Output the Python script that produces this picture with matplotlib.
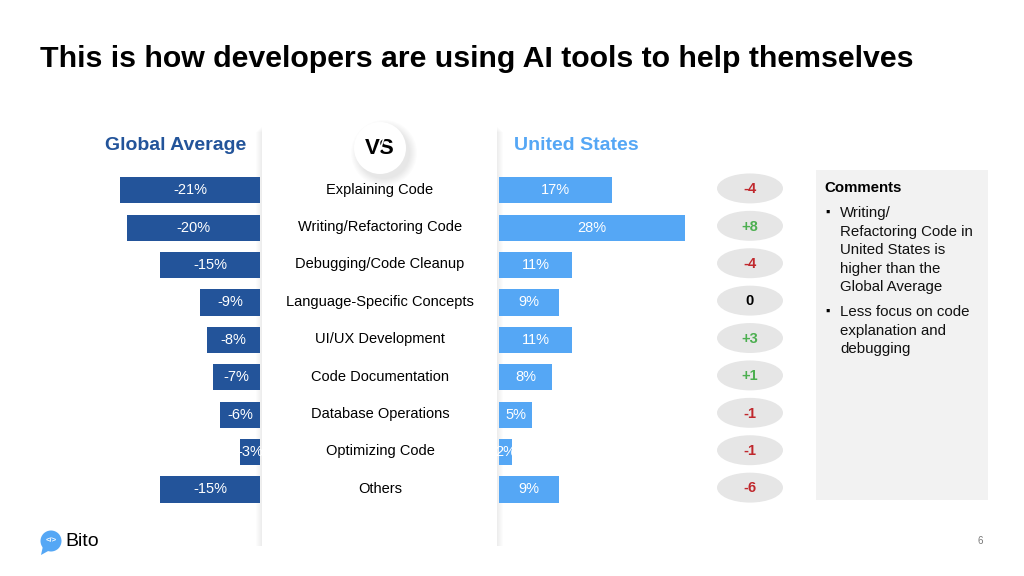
import matplotlib
matplotlib.use("Agg")
import matplotlib.pyplot as plt
from matplotlib.patches import Rectangle, Ellipse, Circle, Polygon

plt.rcParams['font.family'] = ['Liberation Sans', 'DejaVu Sans']

# data
categories = ['Explaining Code', 'Writing/Refactoring Code', 'Debugging/Code Cleanup',
              'Language-Specific Concepts', 'UI/UX Development', 'Code Documentation',
              'Database Operations', 'Optimizing Code', 'Others']
global_avg = [-21, -20, -15, -9, -8, -7, -6, -3, -15]
united_states = [17, 28, 11, 9, 11, 8, 5, 2, 9]
diffs = [-4, 8, -4, 0, 3, 1, -1, -1, -6]
comments = [['Writing/', 'Refactoring Code in', 'United States is',
             'higher than the', 'Global Average'],
            ['Less focus on code', 'explanation and', 'debugging']]

DARK = '#23549A'
LIGHT = '#55A7F5'
RED = '#C0282D'
GREEN = '#4CAF50'

W, H = 1024, 576
fig = plt.figure(figsize=(W / 100, H / 100), dpi=100)
fig.patch.set_facecolor('white')

# background axes in pixel coordinates
bg = fig.add_axes([0, 0, 1, 1])
bg.set_xlim(0, W)
bg.set_ylim(H, 0)
bg.axis('off')

bg.text(40, 59, 'This is how developers are using AI tools to help themselves',
        fontsize=21.8, fontweight='bold', color='black', va='center', ha='left')

# middle panel with soft shadow
for off in range(6, 0, -1):
    bg.add_patch(Rectangle((262 - off, 126 + off), 235 + 2 * off, 420 - off,
                           color='black', alpha=0.012, lw=0, zorder=1))
bg.add_patch(Rectangle((262, 126), 235, 422, color='white', lw=0, zorder=2))

# VS badge
for r in range(33, 25, -1):
    bg.add_patch(Circle((384, 153), r, color='black', alpha=0.012, lw=0, zorder=3))
bg.add_patch(Circle((380, 148), 26, color='white', lw=0, zorder=4))
bg.text(380, 149, 'VS', fontsize=16, fontweight='heavy',
        ha='center', va='center', color='black', zorder=5)
bg.plot([385, 376], [135, 162], color='white', lw=1.2, zorder=6)

bg.text(105, 145, 'Global Average', fontsize=14, fontweight='bold', color=DARK,
        ha='left', va='center')
bg.text(514, 145, 'United States', fontsize=14, fontweight='bold', color=LIGHT,
        ha='left', va='center')

# comments box
bg.add_patch(Rectangle((816, 170), 172, 330, color='#F2F2F2', lw=0))
bg.text(824, 188, 'Comments', fontsize=10.8, fontweight='bold', ha='left', va='center')
y = 213
for block in comments:
    bg.text(828, y, '\u25aa', fontsize=9, ha='center', va='center')
    for line in block:
        bg.text(840, y, line, fontsize=10.8, ha='left', va='center', color='#111111')
        y += 18.6
    y += 6

# logo and page number
bg.add_patch(Polygon([[43, 546], [41, 555], [50, 550]], color=LIGHT, lw=0))
bg.add_patch(Circle((51, 541), 10.5, color=LIGHT, lw=0))
bg.text(51, 541, '</>', fontsize=5.5, fontweight='bold', color='white',
        ha='center', va='center')
bg.text(65, 541, 'Bito', fontsize=14, color='black', ha='left', va='center')
bg.text(980, 541, '6', fontsize=7, color='#777777', ha='center', va='center')

# row band shared by bars, labels and ovals
y0, step = 190.3, 37.4
top = y0 - step / 2
band_h = step * len(categories)
rect_y = 1 - (top + band_h) / H
rows = list(range(len(categories)))

ax_mid = fig.add_axes([0, rect_y, 1, band_h / H])
ax_mid.set_xlim(0, W)
ax_mid.set_ylim(len(categories) - 0.5, -0.5)
ax_mid.axis('off')
ax_mid.patch.set_alpha(0)
for i, cat in enumerate(categories):
    ax_mid.text(380, i - 0.02, cat, fontsize=10.5, ha='center', va='center', color='black')
    ax_mid.add_patch(Ellipse((750, i - 0.05), 66, 0.8, color='#E6E6E6', lw=0))
    d = diffs[i]
    txt = f'{d:+d}' if d != 0 else '0'
    col = RED if d < 0 else (GREEN if d > 0 else 'black')
    ax_mid.text(750, i - 0.03, txt, fontsize=10.5, fontweight='bold', color=col,
                ha='center', va='center')

# left bars
ax_l = fig.add_axes([100 / W, rect_y, 160 / W, band_h / H])
ax_l.barh(rows, global_avg, height=0.7, color=DARK)
ax_l.set_xlim(-24, 0)
ax_l.set_ylim(len(categories) - 0.5, -0.5)
ax_l.axis('off')
ax_l.patch.set_alpha(0)
for i, v in enumerate(global_avg):
    ax_l.text(v / 2, i, f'{v}%', fontsize=10.5, color='white', ha='center', va='center',
              clip_on=False)

# right bars
ax_r = fig.add_axes([499 / W, rect_y, 201 / W, band_h / H])
ax_r.barh(rows, united_states, height=0.7, color=LIGHT)
ax_r.set_xlim(0, 30.2)
ax_r.set_ylim(len(categories) - 0.5, -0.5)
ax_r.axis('off')
ax_r.patch.set_alpha(0)
for i, v in enumerate(united_states):
    ax_r.text(v / 2, i, f'{v}%', fontsize=10.5, color='white', ha='center', va='center')

fig.savefig('out.png', dpi=100)
